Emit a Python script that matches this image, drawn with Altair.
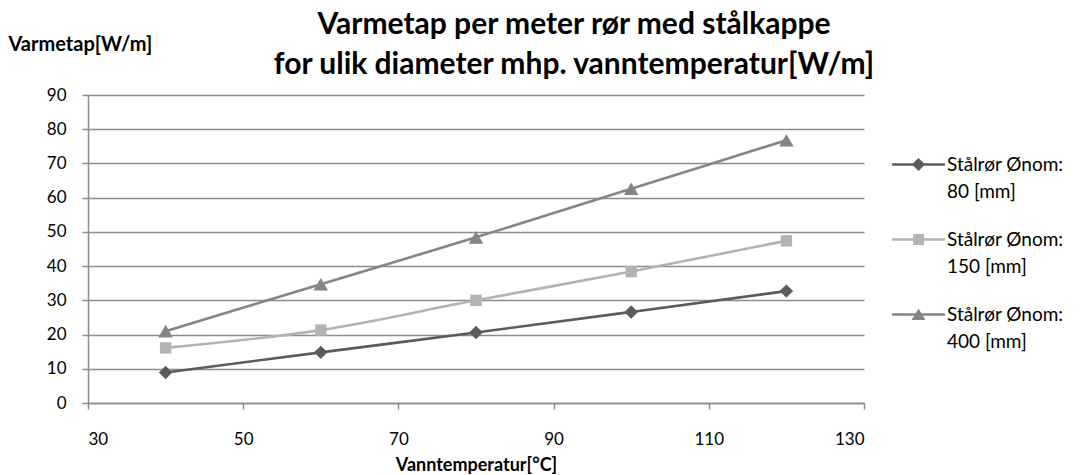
import altair as alt
import pandas as pd

# Water temperature [°C] and heat loss per metre of steel-jacketed pipe [W/m]
temps = [40, 60, 80, 100, 120]
series_names = ["Stålrør Ønom: 80 [mm]", "Stålrør Ønom: 150 [mm]", "Stålrør Ønom: 400 [mm]"]
loss_80 = [8.9, 14.8, 20.6, 26.6, 32.7]
loss_150 = [16.1, 21.3, 30.0, 38.4, 47.4]
loss_400 = [21.0, 34.7, 48.4, 62.6, 76.8]

x_ticks = [30, 50, 70, 90, 110, 130]
y_ticks = [0, 10, 20, 30, 40, 50, 60, 70, 80, 90]

colors = ["#5b5b5b", "#b3b3b3", "#858585"]
marker_shapes = ["diamond", "square", "triangle-up"]
marker_sizes = [180, 130, 210]

# legend symbols: a short line with the series marker in the middle
bar = "M-4.4,-0.22H4.4V0.22H-4.4Z"
legend_shapes = [
    "M0,-1.1L1.1,0L0,1.1L-1.1,0Z" + bar,
    "M-0.9,-0.9H0.9V0.9H-0.9Z" + bar,
    "M0,-1L1.15,0.9H-1.15Z" + bar,
]

rows = []
for name, vals in zip(series_names, [loss_80, loss_150, loss_400]):
    for t, v in zip(temps, vals):
        rows.append({"temp": t, "loss": v, "serie": name})
df = pd.DataFrame(rows)

FONT = "Lato"
GRID = "#8c8c8c"
LABEL_SPLIT = "split(replace(datum.label, ': ', ':|'), '|')"

x_enc = alt.X(
    "temp:Q",
    scale=alt.Scale(domain=[30, 130], nice=False, zero=False),
    axis=alt.Axis(
        values=x_ticks, grid=False, title="Vanntemperatur[°C]",
        titleFontSize=18, titleY=62, titleBaseline="middle",
        labelPadding=22, tickSize=6,
    ),
)
y_enc = alt.Y(
    "loss:Q",
    scale=alt.Scale(domain=[0, 90], nice=False),
    axis=alt.Axis(
        values=y_ticks, grid=True, title="Varmetap[W/m]",
        titleFontSize=20, titleAngle=0, titleAlign="left", titleBaseline="middle",
        titleX=-80, titleY=-51,
        labelPadding=16, tickSize=6,
    ),
)
color_scale = alt.Scale(domain=series_names, range=colors)

base = alt.Chart(df).encode(x=x_enc, y=y_enc)

lines = base.mark_line(strokeWidth=2.6, interpolate="monotone").encode(
    color=alt.Color("serie:N", scale=color_scale)
)

marker_layers = []
for name, shape, size in zip(series_names, marker_shapes, marker_sizes):
    marker_layers.append(
        base.transform_filter(alt.datum.serie == name)
        .mark_point(filled=True, opacity=1, size=size, shape=shape)
        .encode(color=alt.Color("serie:N", scale=color_scale))
    )

legend_props = dict(
    title=None, orient="none", legendX=821, legendY=60,
    labelExpr=LABEL_SPLIT,
)
legend_layer = base.mark_point(filled=True, opacity=0, size=144).encode(
    color=alt.Color("serie:N", scale=color_scale, legend=alt.Legend(**legend_props)),
    shape=alt.Shape(
        "serie:N",
        scale=alt.Scale(domain=series_names, range=legend_shapes),
        legend=alt.Legend(**legend_props),
    ),
)

chart = (
    alt.layer(lines, *marker_layers, legend_layer)
    .properties(
        width=776,
        height=308,
        autosize=alt.AutoSizeParams(type="none"),
        padding={"left": 88, "top": 95, "right": 217, "bottom": 72},
        title=alt.TitleParams(
            text=["Varmetap per meter rør med stålkappe",
                  "for ulik diameter mhp. vanntemperatur[W/m]"],
            font=FONT, fontSize=30, fontWeight="bold", color="#000000",
            anchor="middle", dx=98, lineHeight=40, offset=-46,
        ),
    )
    .configure(style={"guide-label": {"lineHeight": 27}})
    .configure_view(stroke=None)
    .configure_axis(
        labelFont=FONT, labelFontSize=17, labelColor="#000000",
        titleFont=FONT, titleFontWeight="bold", titleColor="#000000",
        domainColor=GRID, domainWidth=1.5, tickColor=GRID, tickWidth=1.5,
        gridColor=GRID, gridWidth=1.5,
    )
    .configure_legend(
        labelFont=FONT, labelFontSize=19, labelColor="#000000",
        labelLimit=300, labelOffset=19, labelBaseline="middle",
        symbolSize=144, symbolStrokeWidth=0, symbolOpacity=1,
        rowPadding=28, padding=0,
    )
)

chart.save("out.html", embed_options={"renderer": "svg", "actions": False})
